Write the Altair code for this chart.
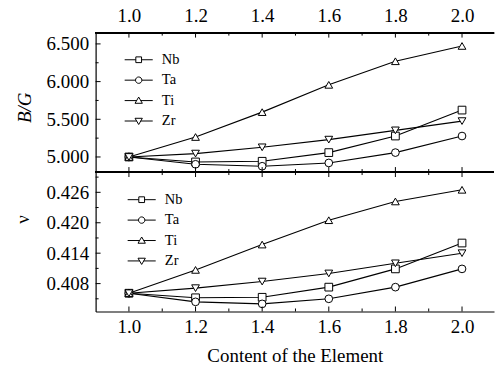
import altair as alt
import pandas as pd

# ---------------- data ----------------
x_vals = [1.0, 1.2, 1.4, 1.6, 1.8, 2.0]
series = ["Nb", "Ta", "Ti", "Zr"]

bg_nb = [5.000, 4.934, 4.943, 5.058, 5.278, 5.622]
bg_ta = [5.000, 4.903, 4.877, 4.921, 5.058, 5.278]
bg_ti = [5.000, 5.265, 5.595, 5.957, 6.270, 6.473]
bg_zr = [5.000, 5.045, 5.128, 5.230, 5.353, 5.476]

nu_nb = [0.4061, 0.4052, 0.4053, 0.4073, 0.4109, 0.4160]
nu_ta = [0.4061, 0.4044, 0.4040, 0.4050, 0.4073, 0.4109]
nu_ti = [0.4061, 0.4107, 0.4157, 0.4205, 0.4242, 0.4265]
nu_zr = [0.4061, 0.4071, 0.4084, 0.4100, 0.4120, 0.4140]

x_major = [1.0, 1.2, 1.4, 1.6, 1.8, 2.0]
x_minor = [1.1, 1.3, 1.5, 1.7, 1.9]
bg_major = [5.0, 5.5, 6.0, 6.5]
bg_minor = [5.25, 5.75, 6.25]
nu_major = [0.408, 0.414, 0.420, 0.426]
nu_minor = [0.405, 0.411, 0.417, 0.423, 0.429]

FONT = "Liberation Serif"
W, H = 400, 140
X_DOMAIN = [0.9, 2.096]

marker_shapes = ["square", "circle", "triangle-up", "triangle-down"]
legend_paths = [
    "M-4.4,0H-0.9M0.9,0H4.4M-0.9,-0.9H0.9V0.9H-0.9Z",
    "M-4.4,0H-1M1,0H4.4M-1,0A1,1 0 1,0 1,0A1,1 0 1,0 -1,0Z",
    "M-4.4,0H-0.62M0.62,0H4.4M0,-1.1L1.15,0.85L-1.15,0.85Z",
    "M-4.4,0H-0.62M0.62,0H4.4M0,1.1L1.15,-0.85L-1.15,-0.85Z",
]


def long_df(cols):
    rows = []
    for s, vals in zip(series, cols):
        for xv, yv in zip(x_vals, vals):
            rows.append({"x": xv, "val": yv, "Series": s})
    return pd.DataFrame(rows)


def panel(df, ydomain, ymajor, yminor, ytitle, title_x, title_y, italic,
          xaxis, legend_x, legend_y):
    xscale = alt.Scale(domain=X_DOMAIN, nice=False, zero=False)
    yscale = alt.Scale(domain=ydomain, nice=False, zero=False)
    yaxis = alt.Axis(
        orient="left", values=ymajor, format=".3f", ticks=False, grid=False,
        domain=True, domainColor="black", domainWidth=1.2,
        labelFont=FONT, labelFontSize=19, labelColor="black", labelPadding=7,
        title=ytitle, titleFont=FONT, titleFontSize=19, titleColor="black",
        titleFontWeight="normal", titleFontStyle="italic" if italic else "normal",
        titleAngle=270, titleAlign="center", titleBaseline="middle",
        titleX=title_x, titleY=title_y,
    )

    def X(field="x"):
        return alt.X(f"{field}:Q", scale=xscale, axis=xaxis)

    def Y(field="val"):
        return alt.Y(f"{field}:Q", scale=yscale, axis=yaxis)

    lines = alt.Chart(df).mark_line(color="black", strokeWidth=1.1).encode(
        x=X(), y=Y(), detail="Series:N"
    )
    points = alt.Chart(df).mark_point(
        filled=True, fill="white", stroke="black", strokeWidth=1, size=60, opacity=1
    ).encode(
        x=X(), y=Y(),
        shape=alt.Shape("Series:N", scale=alt.Scale(domain=series, range=marker_shapes),
                        legend=None),
    )
    legend_layer = alt.Chart(df).transform_filter("false").mark_point(
        filled=False, color="black", strokeWidth=1, opacity=1
    ).encode(
        x=X(), y=Y(),
        shape=alt.Shape(
            "Series:N",
            scale=alt.Scale(domain=series, range=legend_paths),
            legend=alt.Legend(
                title=None, orient="none", legendX=legend_x, legendY=legend_y,
                symbolSize=41, symbolStrokeColor="black",
                symbolStrokeWidth=1, labelFont=FONT, labelFontSize=14.5,
                labelColor="black", labelOffset=16, rowPadding=5.5, padding=0,
            ),
        ),
    )

    xt_major = pd.DataFrame({"x": x_major})
    xt_minor = pd.DataFrame({"x": x_minor})
    yt_major = pd.DataFrame({"val": ymajor})
    yt_minor = pd.DataFrame({"val": yminor})

    def xrule(d, y0, y1):
        return alt.Chart(d).mark_rule(color="black", strokeWidth=1).encode(
            x=X(), y=alt.value(y0), y2=alt.value(y1)
        )

    def yrule(d, length):
        return alt.Chart(d).mark_rule(color="black", strokeWidth=1).encode(
            y=Y(), x=alt.value(0), x2=alt.value(length)
        )

    ticks = [
        xrule(xt_major, 0, 5), xrule(xt_minor, 0, 3),
        xrule(xt_major, H - 5, H), xrule(xt_minor, H - 3, H),
        yrule(yt_major, 5), yrule(yt_minor, 3),
    ]
    divider = alt.Chart(df).mark_rule(color="black", strokeWidth=1.2).encode(
        x=alt.value(0), x2=alt.value(W), y=alt.value(0)
    )

    return alt.layer(lines, points, legend_layer, divider, *ticks).resolve_scale(
        shape="independent"
    ).properties(width=W, height=H)


top_xaxis = alt.Axis(
    orient="top", values=x_major, format=".1f", ticks=False, grid=False,
    domain=True, domainColor="black", domainWidth=1.2,
    labelFont=FONT, labelFontSize=19, labelColor="black", labelPadding=7, title=None,
)
bottom_xaxis = alt.Axis(
    orient="bottom", values=x_major, format=".1f", ticks=False, grid=False,
    domain=True, domainColor="black", domainWidth=1.2,
    labelFont=FONT, labelFontSize=19, labelColor="black", labelPadding=6.5,
    title="Content of the Element", titleFont=FONT, titleFontSize=19,
    titleColor="black", titleFontWeight="normal", titlePadding=10,
)

top = panel(long_df([bg_nb, bg_ta, bg_ti, bg_zr]), [4.80, 6.65], bg_major, bg_minor,
            "B/G", -71, 75, True, top_xaxis, 36, 20)
bottom = panel(long_df([nu_nb, nu_ta, nu_ti, nu_zr]), [0.4025, 0.430], nu_major, nu_minor,
               "ν", -73, 47, False, bottom_xaxis, 39, 20.5)

chart = alt.vconcat(top, bottom, spacing=0, bounds="flush").resolve_scale(
    shape="independent"
).resolve_legend(shape="independent").properties(
    padding={"left": 14, "top": 6, "right": 0, "bottom": 0},
    background="white",
).configure_view(strokeOpacity=0)

chart.save("out.html", embed_options={"renderer": "svg", "actions": False})
